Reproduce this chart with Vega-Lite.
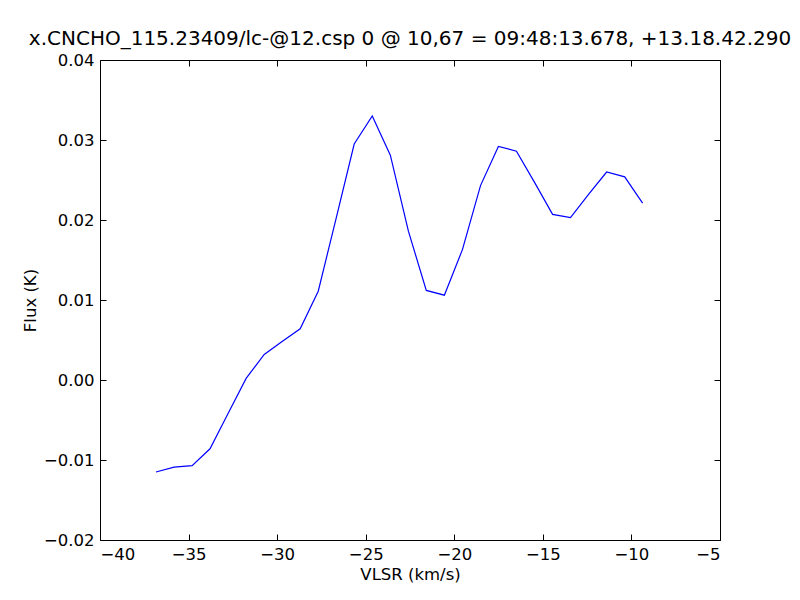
{
  "$schema": "https://vega.github.io/schema/vega-lite/v6.json",
  "autosize": "none",
  "width": 620,
  "height": 480,
  "padding": {"left": 100, "top": 60, "right": 80, "bottom": 60},
  "background": "white",
  "title": {"text": "x.CNCHO_115.23409/lc-@12.csp 0 @ 10,67 = 09:48:13.678, +13.18.42.290", "font": "DejaVu Sans", "fontSize": 20, "fontWeight": "normal", "color": "black", "offset": 3},
  "config": {
    "view": {"stroke": "black", "strokeWidth": 1},
    "axis": {"labelFont": "DejaVu Sans", "titleFont": "DejaVu Sans", "labelFontSize": 16.5, "titleFontSize": 16.5, "titleFontWeight": "normal", "labelColor": "black", "titleColor": "black", "domain": false, "grid": false, "tickColor": "black", "tickSize": -6, "labelPadding": 12}
  },
  "data": {"values": [
    {"v": -36.84, "f": -0.0115},
    {"v": -35.82, "f": -0.0109},
    {"v": -34.80, "f": -0.0107},
    {"v": -33.79, "f": -0.0086},
    {"v": -32.77, "f": -0.0042},
    {"v": -31.75, "f": 0.0002},
    {"v": -30.73, "f": 0.0032},
    {"v": -29.72, "f": 0.0048},
    {"v": -28.70, "f": 0.0064},
    {"v": -27.68, "f": 0.0111},
    {"v": -26.66, "f": 0.0203},
    {"v": -25.65, "f": 0.0295},
    {"v": -24.63, "f": 0.0330},
    {"v": -23.61, "f": 0.0281},
    {"v": -22.59, "f": 0.0186},
    {"v": -21.58, "f": 0.0112},
    {"v": -20.56, "f": 0.0106},
    {"v": -19.54, "f": 0.0163},
    {"v": -18.52, "f": 0.0243},
    {"v": -17.51, "f": 0.0292},
    {"v": -16.49, "f": 0.0286},
    {"v": -15.47, "f": 0.0247},
    {"v": -14.45, "f": 0.0207},
    {"v": -13.44, "f": 0.0203},
    {"v": -12.42, "f": 0.0232},
    {"v": -11.40, "f": 0.0260},
    {"v": -10.38, "f": 0.0254},
    {"v": -9.37, "f": 0.0221}
  ]},
  "layer": [
    {
      "mark": {"type": "line", "color": "#0000ff", "strokeWidth": 1.2},
      "encoding": {
        "x": {"field": "v", "type": "quantitative", "scale": {"domain": [-40, -5], "nice": false, "zero": false}, "axis": {"title": "VLSR (km/s)", "values": [-40, -35, -30, -25, -20, -15, -10, -5], "format": "d", "titlePadding": 4}},
        "y": {"field": "f", "type": "quantitative", "scale": {"domain": [-0.02, 0.04], "nice": false, "zero": false}, "axis": {"title": "Flux (K)", "values": [-0.02, -0.01, 0, 0.01, 0.02, 0.03, 0.04], "format": ".2f", "titlePadding": 5}}
      }
    },
    {
      "mark": {"type": "line", "opacity": 0},
      "encoding": {
        "x": {"field": "v", "type": "quantitative", "scale": {"domain": [-40, -5], "nice": false, "zero": false}, "axis": {"orient": "top", "title": null, "labels": false, "values": [-40, -35, -30, -25, -20, -15, -10, -5]}},
        "y": {"field": "f", "type": "quantitative", "scale": {"domain": [-0.02, 0.04], "nice": false, "zero": false}, "axis": {"orient": "right", "title": null, "labels": false, "values": [-0.02, -0.01, 0, 0.01, 0.02, 0.03, 0.04]}}
      }
    }
  ],
  "resolve": {"axis": {"x": "independent", "y": "independent"}}
}
